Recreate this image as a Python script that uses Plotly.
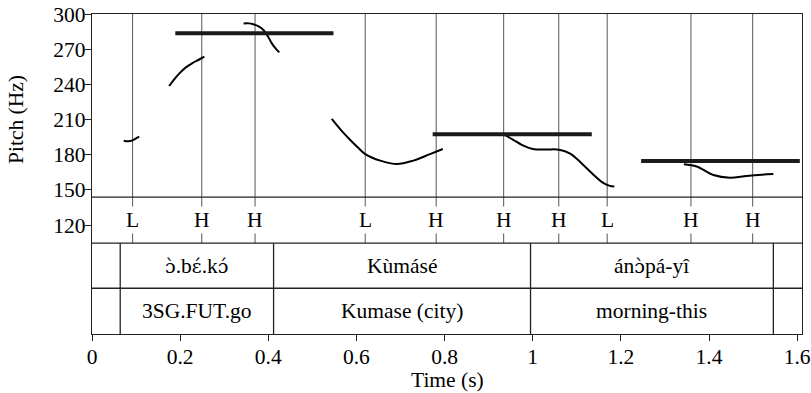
import plotly.graph_objects as go

# ---------------- data ----------------
seg1_t = [0.072, 0.082, 0.092, 0.100, 0.107]
seg1_hz = [192.0, 191.5, 192.3, 194.0, 195.4]

seg2_t = [0.175, 0.188, 0.200, 0.213, 0.227, 0.242, 0.255]
seg2_hz = [238.6, 245.0, 250.0, 254.5, 258.0, 261.0, 263.6]

seg3_t = [0.344, 0.356, 0.366, 0.378, 0.389, 0.399, 0.408, 0.418, 0.425]
seg3_hz = [292.0, 292.0, 291.2, 289.5, 286.4, 281.0, 275.0, 270.0, 267.3]

seg4_t = [0.544, 0.565, 0.586, 0.604, 0.620, 0.654, 0.692, 0.729, 0.767, 0.796]
seg4_hz = [210.5, 201.0, 192.6, 186.0, 180.6, 175.0, 172.1, 175.0, 180.6, 184.9]

seg5_t = [0.933, 0.955, 0.975, 1.000, 1.030, 1.060, 1.085, 1.110, 1.135, 1.160, 1.175, 1.185]
seg5_hz = [197.5, 193.0, 188.5, 185.0, 184.5, 184.3, 181.0, 173.0, 164.0, 156.0, 153.5, 153.0]

seg6_t = [1.343, 1.372, 1.410, 1.447, 1.485, 1.520, 1.546]
seg6_hz = [171.9, 170.0, 162.7, 160.4, 161.9, 163.0, 163.6]

pitch_segments = [(seg1_t, seg1_hz), (seg2_t, seg2_hz), (seg3_t, seg3_hz),
                  (seg4_t, seg4_hz), (seg5_t, seg5_hz), (seg6_t, seg6_hz)]

# target (thick horizontal) lines
target_start = [0.189, 0.773, 1.246]
target_end = [0.548, 1.134, 1.606]
target_hz = [283.5, 197.4, 174.7]

# tone tier
tone_times = [0.092, 0.249, 0.370, 0.620, 0.781, 0.934, 1.059, 1.169, 1.359, 1.499]
tone_labels = ["L", "H", "H", "L", "H", "H", "H", "L", "H", "H"]

# word / gloss tiers
word_bounds = [0.064, 0.412, 0.995, 1.546]
words = ["\u0254\u0300.b\u025b\u0301.k\u0254\u0301", "K\u00f9m\u00e1s\u00e9", "\u00e1n\u0254\u0300p\u00e1-y\u00ee"]
glosses = ["3SG.FUT.go", "Kumase (city)", "morning-this"]

x_ticks = [0, 0.2, 0.4, 0.6, 0.8, 1.0, 1.2, 1.4, 1.6]
y_ticks = [120, 150, 180, 210, 240, 270, 300]

# ---------------- layout constants ----------------
FONT = "Liberation Serif"
FS = 21.5
X_MAX = 1.611
Y_MIN, Y_MAX = 27.2, 300
PITCH_BOTTOM = 0.428   # paper y of pitch panel bottom
TONE_BOTTOM = 0.284    # paper y of tone tier bottom
WORD_BOTTOM = 0.143    # paper y of word tier bottom
LINE_COL = "#222222"


def mark_fix(s):
    """Wrap open-vowel + combining-mark clusters in a font with proper mark anchors."""
    out = []
    i = 0
    while i < len(s):
        ch = s[i]
        if ch in "\u0254\u025b" and i + 1 < len(s) and s[i + 1] in "\u0300\u0301":
            out.append('<span style="font-family:\'DejaVu Serif\';font-size:19px">' + ch + s[i + 1] + "</span>")
            i += 2
        else:
            out.append(ch)
            i += 1
    return "".join(out)


fig = go.Figure()

for t, hz in pitch_segments:
    fig.add_trace(go.Scatter(x=t, y=hz, mode="lines", line=dict(color="black", width=2, shape="spline"),
                             hoverinfo="skip", showlegend=False))

for s, e, h in zip(target_start, target_end, target_hz):
    fig.add_trace(go.Scatter(x=[s, e], y=[h, h], mode="lines", line=dict(color="#1a1a1a", width=4),
                             hoverinfo="skip", showlegend=False))

shapes = []
for py in [PITCH_BOTTOM, TONE_BOTTOM, WORD_BOTTOM]:
    shapes.append(dict(type="line", xref="paper", yref="paper", x0=0, x1=1, y0=py, y1=py,
                       line=dict(color=LINE_COL, width=1.3)))
for t in tone_times:
    shapes.append(dict(type="line", xref="x", yref="paper", x0=t, x1=t, y0=TONE_BOTTOM, y1=1,
                       line=dict(color="#666666", width=1.1), layer="below"))
for t in word_bounds:
    shapes.append(dict(type="line", xref="x", yref="paper", x0=t, x1=t, y0=0, y1=TONE_BOTTOM,
                       line=dict(color=LINE_COL, width=1.3)))

annotations = []
txtfont = dict(family=FONT, size=FS, color="black")
for t, lab in zip(tone_times, tone_labels):
    annotations.append(dict(x=t, y=(PITCH_BOTTOM + TONE_BOTTOM) / 2, xref="x", yref="paper", text=lab,
                            xanchor="center", yanchor="middle",
                            showarrow=False, bgcolor="white", font=txtfont, borderpad=1))
for i in range(len(words)):
    xc = (word_bounds[i] + word_bounds[i + 1]) / 2
    annotations.append(dict(x=xc, y=(TONE_BOTTOM + WORD_BOTTOM) / 2, xref="x", yref="paper",
                            text=mark_fix(words[i]),
                            xanchor="center", yanchor="middle", showarrow=False, font=txtfont))
    annotations.append(dict(x=xc, y=WORD_BOTTOM / 2, xref="x", yref="paper", text=glosses[i],
                            xanchor="center", yanchor="middle", showarrow=False, font=txtfont))
annotations.append(dict(x=-0.107, y=0.669, xref="paper", yref="paper", text="Pitch (Hz)", textangle=-90,
                        xanchor="center", yanchor="middle", showarrow=False, font=txtfont))
annotations.append(dict(x=0.5, y=-0.144, xref="paper", yref="paper", text="Time (s)",
                        xanchor="center", yanchor="middle", showarrow=False, font=txtfont))

fig.update_layout(
    width=811, height=393,
    margin=dict(l=92, r=9, t=14, b=59),
    plot_bgcolor="white", paper_bgcolor="white",
    shapes=shapes, annotations=annotations,
    font=txtfont,
    xaxis=dict(range=[0, X_MAX], tickvals=x_ticks, ticktext=[f"{v:g}" for v in x_ticks],
               showgrid=False, zeroline=False, showline=True, linecolor=LINE_COL, linewidth=1.3,
               mirror=True, ticks="outside", ticklen=6, tickcolor=LINE_COL, automargin=False,
               ticklabelstandoff=-3),
    yaxis=dict(range=[Y_MIN, Y_MAX], tickvals=y_ticks, showgrid=False, zeroline=False,
               showline=True, linecolor=LINE_COL, linewidth=1.3, mirror=True,
               ticks="outside", ticklen=6, tickcolor=LINE_COL, automargin=False,
               ticklabelstandoff=-5),
)

fig.write_html("out.html", config={"displayModeBar": False},
               post_script="document.body.style.margin='0';document.body.style.overflow='hidden';")
